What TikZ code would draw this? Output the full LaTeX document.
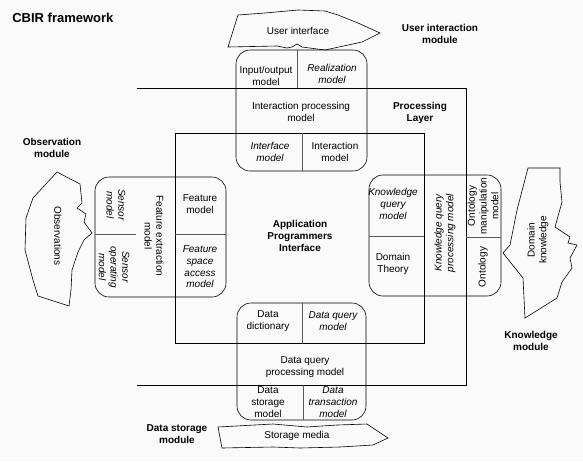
\documentclass[tikz,border=0pt]{standalone}
\usepackage{fontspec}
\setmainfont{Liberation Sans}
\begin{document}
\begin{tikzpicture}[x=1pt,y=-1pt,line width=0.6pt,
  lbl/.style={font=\fontsize{10}{11.7}\selectfont,align=center,inner sep=0pt},
  ilbl/.style={lbl,font=\fontsize{10}{11.7}\selectfont\itshape},
  head/.style={lbl,font=\fontsize{10}{12}\selectfont\bfseries},
  divider/.style={draw=black!65},
  module/.style={rounded corners=14pt}]
	\fill[black!2] (0,0) rectangle (583,461);
	\useasboundingbox (0,0) rectangle (583,461);
	% layers
	\draw (137,88) -- (466,88) -- (466,385) -- (137,385);
	\draw (175,133) rectangle (424,343);
	% the four modules
	\draw[module] (236,50) rectangle (367,171);
	\draw[module] (95,177) rectangle (226,297);
	\draw[module] (369,175) rectangle (501,296);
	\draw[module] (237,303) rectangle (366,420);
	\draw[divider] (297,50) -- (297,88);
	\draw[divider] (302,133) -- (302,171);
	\draw[divider] (95,234) -- (136,234);
	\draw[divider] (175,234) -- (226,234);
	\draw[divider] (369,236) -- (424,236);
	\draw[divider] (466,237) -- (501,237);
	\draw[divider] (302,303) -- (302,343);
	\draw[divider] (303,385) -- (303,420);
	% outside media
	\draw (238,15) -- (265,13) -- (298,10) -- (325,11) -- (338,15) -- (358,23) -- (380,33)
		-- (362,42) -- (325,50) -- (302,47) -- (297,44) -- (292,47) -- (287,48) -- (277,46) -- (228,47) -- cycle;
	\draw (57,172) -- (80,184) -- (82,203) -- (77,208) -- (86,214) -- (84,222) -- (92,233) -- (84,240)
		-- (78,252) -- (72,270) -- (71,290) -- (69,306) -- (38,296) -- (33,280) -- (25,250) -- (26,218) -- (33,198) -- cycle;
	\draw (528,168) -- (560,168) -- (560,182) -- (562,202) -- (555,227) -- (570,237) -- (568,243) -- (577,245)
		-- (570,258) -- (572,268) -- (562,282) -- (557,298) -- (525,318) -- (523,278) -- (503,253) -- (510,245) -- (517,210) -- cycle;
	\draw (218,427) -- (273,424) -- (307,427) -- (337,425) -- (367,424) -- (388,438) -- (373,445)
		-- (340,447) -- (300,448) -- (273,447) -- (222,448) -- cycle;
	% headings
	\node[head,font=\fontsize{13}{15}\selectfont\bfseries,anchor=west] (title) at (12,18) {CBIR framework};
	\node[head] (uim) at (440,34) {User interaction\\module};
	\node[head] (pl) at (420,113) {Processing\\Layer};
	\node[head] (api) at (300,236) {Application\\Programmers\\Interface};
	\node[head] (om) at (52,148) {Observation\\module};
	\node[head] (km) at (531,341) {Knowledge\\module};
	\node[head] (dsm) at (177,434) {Data storage\\module};
	% media
	\node[lbl] (ui) at (298,31) {User interface};
	\node[lbl,rotate=-90] (obs) at (58,236) {Observations};
	\node[lbl,rotate=90] (dk) at (538,240) {Domain\\knowledge};
	\node[lbl] (sm) at (297,436) {Storage media};
	% user interaction module
	\node[lbl] (iom) at (266,76) {Input/output\\model};
	\node[ilbl] (rm) at (332,74) {Realization\\model};
	\node[lbl] (ipm) at (301,112) {Interaction processing\\model};
	\node[ilbl] (ifm) at (270,152) {Interface\\model};
	\node[lbl] (inm) at (335,152) {Interaction\\model};
	% observation module
	\node[ilbl,rotate=-90] (snm) at (116,205) {Sensor\\model};
	\node[ilbl,rotate=-90] (som) at (114,267) {Sensor\\operating\\model};
	\node[lbl,rotate=-90] (fem) at (154,236) {Feature extraction\\model};
	\node[lbl] (fm) at (200,204) {Feature\\model};
	\node[ilbl] (fsam) at (200,267) {Feature\\space\\access\\model};
	% knowledge module
	\node[ilbl] (kqm) at (393,204) {Knowledge\\query\\model};
	\node[lbl] (dt) at (393,264) {Domain\\Theory};
	\node[ilbl,rotate=90] (kqpm) at (445,233) {Knowledge query\\processing model};
	\node[lbl,rotate=90] (omm) at (483,206) {Ontology\\manipulation\\model};
	\node[lbl,rotate=90] (ont) at (483,267) {Ontology};
	% data storage module
	\node[lbl] (dd) at (268,321) {Data\\dictionary};
	\node[ilbl] (dqm) at (333,321) {Data query\\model};
	\node[lbl] (dqpm) at (305,367) {Data query\\processing model};
	\node[lbl] (dsmod) at (268,402) {Data\\storage\\model};
	\node[ilbl] (dtm) at (333,402) {Data\\transaction\\model};
\end{tikzpicture}
\end{document}
